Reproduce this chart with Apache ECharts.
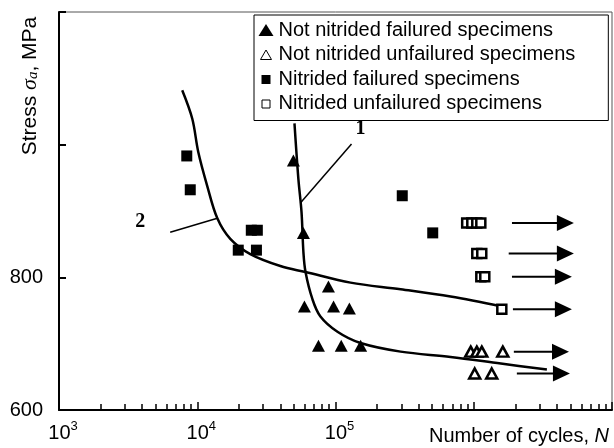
<!DOCTYPE html>
<html>
<head>
<meta charset="utf-8">
<script src="https://cdn.jsdelivr.net/npm/echarts@6/dist/echarts.min.js"></script>
<style>
html,body{margin:0;padding:0;background:#fff;}
#chart{width:614px;height:448px;}
</style>
</head>
<body>
<div id="chart"></div>
<script>
// ---- data (N = number of cycles, S = stress amplitude in MPa) ----
const notNitFailN = [49600, 58600, 88900, 59600, 96800, 126000, 75300, 110000, 152000];
const notNitFailS = [976, 867, 786, 756, 756, 753, 697, 697, 697];

const notNitUnfN = [951000, 1052000, 1143000, 1622000, 1016000, 1349000];
const notNitUnfS = [688, 688, 688, 688, 655, 655];

const nitFailN = [8400, 8900, 19800, 24600, 27200, 26800, 304000, 505000];
const nitFailS = [983, 932, 841, 871, 871, 841, 923, 867];

const nitUnfN = [889000, 968000, 1052000, 1125000, 1052000, 1143000, 1125000, 1202000, 1596000];
const nitUnfS = [882, 882, 882, 882, 836, 836, 801, 801, 752];

const runoutS = [882, 836, 801, 752, 688, 655];
const runoutStartN = [1890000, 1790000, 1890000, 1920000, 1950000, 2050000];
const runoutEndN = [4600000, 4600000, 4450000, 4450000, 4240000, 4310000];

const curve1N = [50500, 53900, 56800, 58600, 60700, 68100, 77800, 103300, 151700, 295800, 680000, 1570000, 3381000];
const curve1S = [1032, 948, 898, 838, 808, 767, 741, 718, 701, 688, 680, 670, 661];

const curve2N = [7785, 9204, 10170, 11800, 13970, 17340, 24200, 39900, 60700, 128500, 295800, 680000, 1596000];
const curve2S = [1082, 1039, 989, 938, 889, 858, 835, 817, 808, 792, 782, 771, 756];

const leader1N = [55700, 130600];
const leader1S = [912, 1001];
const leader2N = [6370, 13970];
const leader2S = [868, 889];

const curveLabels = ['1', '2'];
const curveLabelN = [151700, 3865];
const curveLabelS = [1024, 883];

const xTickLabels = {1000: '3', 10000: '4', 100000: '5'};
const yTickLabels = [600, 800];

const legendNames = [
  'Not nitrided failured specimens',
  'Not nitrided unfailured specimens',
  'Nitrided failured specimens',
  'Nitrided unfailured specimens'
];

// ---- helpers ----
const zip = (a, b) => a.map((v, i) => [v, b[i]]);
const FONT = 'Liberation Sans, Arial, sans-serif';
const FS = 20;

const chart = echarts.init(document.getElementById('chart'), null, {renderer: 'canvas'});

const arrowShafts = runoutS.map((s, i) => ({
  name: 'runout ' + (i + 1), type: 'line', z: 3,
  data: [[runoutStartN[i], s], [runoutEndN[i], s]],
  symbol: 'none', lineStyle: {color: '#000', width: 2}
}));

const option = {
  animation: false,
  backgroundColor: '#fff',
  grid: {
    left: 59, right: 2, top: 12, bottom: 38,
    show: true, borderColor: '#555', borderWidth: 1,
    outerBoundsMode: 'none', containLabel: false
  },
  xAxis: {
    type: 'log', logBase: 10, min: 1000, max: 10000000,
    axisLine: {show: true, lineStyle: {color: '#000', width: 2}},
    axisTick: {show: true, inside: true, length: 8, lineStyle: {color: '#000', width: 1.5}},
    minorTick: {show: true, splitNumber: 9, length: 6, lineStyle: {color: '#000', width: 1.5}},
    splitLine: {show: false},
    minorSplitLine: {show: false},
    axisLabel: {
      margin: 10,
      formatter: function (v) {
        const k = xTickLabels[Math.round(v)];
        return k ? '{b|10}{s|' + k + '}' : '';
      },
      rich: {
        b: {fontSize: FS, fontFamily: FONT, color: '#000', lineHeight: 26, padding: [0, 0, 0, 8]},
        s: {fontSize: 13, fontFamily: FONT, color: '#000', lineHeight: 13, verticalAlign: 'top'}
      }
    }
  },
  yAxis: {
    type: 'value', min: 600, max: 1200, interval: 200,
    axisLine: {show: true, lineStyle: {color: '#000', width: 2}},
    axisTick: {show: true, inside: true, length: 7, lineStyle: {color: '#000', width: 2}},
    splitLine: {show: false},
    axisLabel: {
      margin: 16, color: '#000', fontSize: FS, fontFamily: FONT,
      formatter: function (v) { return yTickLabels.indexOf(v) >= 0 ? String(v) : ''; }
    }
  },
  legend: {
    orient: 'vertical', left: 254, top: 15,
    padding: [5, 33, 7, 4],
    itemGap: 4.5, itemWidth: 15, itemHeight: 12,
    borderColor: '#000', borderWidth: 1, backgroundColor: '#fff',
    textStyle: {fontSize: FS, fontFamily: FONT, color: '#000', lineHeight: 20},
    selectedMode: false,
    data: [
      {name: legendNames[0], icon: 'path://M7.5,0L15,12L0,12Z', itemStyle: {color: '#000', borderWidth: 0, opacity: 1}},
      {name: legendNames[1], icon: 'path://M0,0M15,12M7.5,1.5L13,11L2,11Z', itemStyle: {color: '#fff', borderColor: '#000', borderWidth: 1, opacity: 1}},
      {name: legendNames[2], icon: 'path://M0,0M15,12M3,2L12,2L12,11L3,11Z', itemStyle: {color: '#000', borderWidth: 0, opacity: 1}},
      {name: legendNames[3], icon: 'path://M0,0M15,12M3.5,2.5L11.5,2.5L11.5,10.5L3.5,10.5Z', itemStyle: {color: '#fff', borderColor: '#000', borderWidth: 1, opacity: 1}}
    ]
  },
  graphic: [
    {
      type: 'text', x: 30, y: 86, rotation: Math.PI / 2,
      style: {
        text: 'Stress {i|σ}{sub|a}, MPa',
        font: '21px ' + FONT, fill: '#000',
        align: 'center', verticalAlign: 'middle',
        rich: {
          i: {fontSize: 22, fontFamily: 'Liberation Serif, serif', fontStyle: 'italic', fill: '#000'},
          sub: {fontSize: 15, fontFamily: 'Liberation Serif, serif', fontStyle: 'italic', fill: '#000', verticalAlign: 'bottom', padding: [6, 0, 0, 0]}
        }
      }
    },
    {
      type: 'text', x: 609, y: 436,
      style: {
        text: 'Number of cycles, {i|N}',
        font: FS + 'px ' + FONT, fill: '#000',
        align: 'right', verticalAlign: 'middle',
        rich: {i: {fontSize: FS, fontFamily: FONT, fontStyle: 'italic', fill: '#000'}}
      }
    }
  ],
  series: [
    {
      name: 'curve 1', type: 'line', data: zip(curve1N, curve1S), smooth: 0.35,
      symbol: 'none', lineStyle: {color: '#000', width: 2.5}, z: 3
    },
    {
      name: 'curve 2', type: 'line', data: zip(curve2N, curve2S), smooth: 0.35,
      symbol: 'none', lineStyle: {color: '#000', width: 2.5}, z: 3
    },
    {
      name: 'leader 1', type: 'line', data: zip(leader1N, leader1S),
      symbol: 'none', lineStyle: {color: '#000', width: 1.5}, z: 3
    },
    {
      name: 'leader 2', type: 'line', data: zip(leader2N, leader2S),
      symbol: 'none', lineStyle: {color: '#000', width: 1.5}, z: 3
    },
    {
      name: 'curve labels', type: 'scatter', symbolSize: 0, z: 5,
      itemStyle: {opacity: 1, color: '#000'},
      data: curveLabels.map((t, i) => ({name: t, value: [curveLabelN[i], curveLabelS[i]]})),
      label: {
        show: true, position: 'inside', formatter: '{b}', color: '#000', opacity: 1,
        fontSize: 20, fontWeight: 'bold', fontFamily: 'Liberation Serif, Times New Roman, serif'
      }
    },
    ...arrowShafts,
    {
      name: 'runout heads', type: 'scatter', z: 4,
      data: zip(runoutEndN, runoutS),
      symbol: 'triangle', symbolRotate: -90, symbolSize: [16, 17],
      itemStyle: {color: '#000', opacity: 1}
    },
    {
      name: legendNames[0], type: 'scatter', data: zip(notNitFailN, notNitFailS),
      symbol: 'triangle', symbolSize: [13, 12], itemStyle: {color: '#000', opacity: 1}, z: 4
    },
    {
      name: legendNames[1], type: 'scatter', data: zip(notNitUnfN, notNitUnfS),
      symbol: 'triangle', symbolSize: [11, 10],
      itemStyle: {color: '#fff', borderColor: '#000', borderWidth: 2.5, opacity: 1}, z: 4
    },
    {
      name: legendNames[2], type: 'scatter', data: zip(nitFailN, nitFailS),
      symbol: 'rect', symbolSize: 11, itemStyle: {color: '#000', opacity: 1}, z: 4
    },
    {
      name: legendNames[3], type: 'scatter', data: zip(nitUnfN, nitUnfS),
      symbol: 'rect', symbolSize: 9,
      itemStyle: {color: '#fff', borderColor: '#000', borderWidth: 2.5, opacity: 1}, z: 4
    }
  ]
};

chart.setOption(option);
</script>
</body>
</html>
